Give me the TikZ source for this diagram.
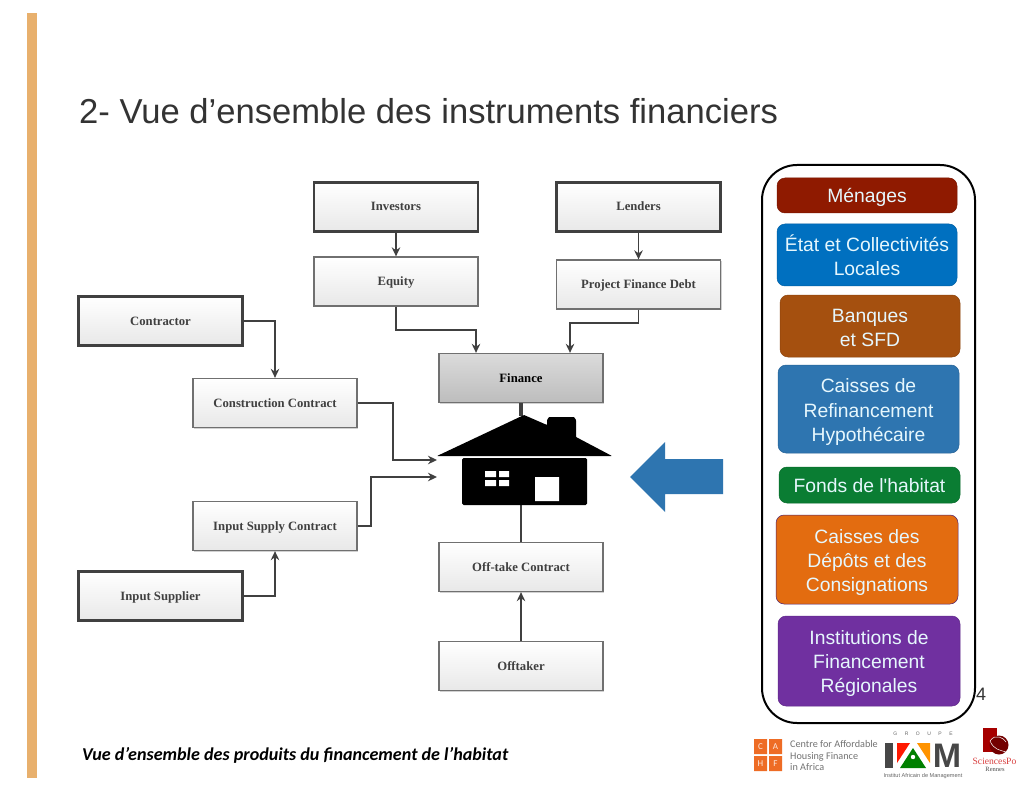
\documentclass[tikz,border=0pt]{standalone}
\usepackage{fontspec}
\setmainfont{Liberation Sans}
\newfontfamily\plainsans{Liberation Sans}
\newfontfamily\serifdiag{Liberation Serif}
\newfontfamily\capfont{Carlito}
\usetikzlibrary{shadows,calc,arrows.meta}
\definecolor{stripe}{HTML}{E8B06D}
\definecolor{titlegray}{HTML}{333333}
\definecolor{linegray}{HTML}{404040}
\definecolor{cMen}{HTML}{8F1A00}
\definecolor{cEtat}{HTML}{0070C0}
\definecolor{cBanq}{HTML}{A5500F}
\definecolor{cRef}{HTML}{2E75B0}
\definecolor{cFonds}{HTML}{0A7D33}
\definecolor{cDep}{HTML}{E36C10}
\definecolor{cInst}{HTML}{7030A0}
\definecolor{cahf}{HTML}{EE6C25}
\newcommand\liftline[1]{\rule{0pt}{#1}}
\tikzset{
  x=1pt,y=-1pt,
  diag/.style={draw=linegray!75,line width=1.3pt,top color=white,bottom color=black!9,
    minimum width=164pt,minimum height=49pt,inner sep=0pt,text height=9.5pt,text depth=1.5pt,
    font=\serifdiag\fontsize{12.7}{14}\selectfont\bfseries,text=black!75,
    drop shadow={shadow xshift=1.4pt,shadow yshift=-1.4pt,fill=black!40,opacity=.45}},
  strong/.style={diag,draw=linegray,line width=2.1pt},
  finbox/.style={diag,top color=black!14,bottom color=black!26,text=black},
  conn/.style={draw=linegray,line width=1.9pt,-{Stealth[length=9pt,width=8.5pt]}},
  plain/.style={draw=linegray,line width=1.9pt},
  pill/.style={rounded corners=8pt,minimum width=180pt,inner sep=0pt,align=center,
    font=\plainsans\fontsize{19.3}{24}\selectfont,text=white!90!cyan,draw=#1!85!black,line width=.5pt,fill=#1},
}
\begin{document}
\begin{tikzpicture}
\useasboundingbox (0,0) rectangle (1024,791);
\fill[white] (0,0) rectangle (1024,791);
\fill[stripe] (27,13) rectangle (37,778);
\node[anchor=base west,inner sep=0pt,text=titlegray,font=\fontsize{34.6}{38}\selectfont] (title) at (79,124) {2- Vue d’ensemble des instruments financiers};

% diagram boxes
\node[strong] (inv) at (396,207) {Investors};
\node[strong] (len) at (638.5,207) {Lenders};
\node[diag] (eq) at (396,281.5) {Equity};
\node[diag] (pfd) at (638.5,284.5) {Project Finance Debt};
\node[finbox] (fin) at (521,378) {Finance};
\node[strong] (con) at (160.5,321) {Contractor};
\node[diag] (cc) at (275,403) {Construction Contract};
\node[diag] (isc) at (275,526) {Input Supply Contract};
\node[strong] (sup) at (160.5,596) {Input Supplier};
\node[diag] (otc) at (521,567) {Off-take Contract};
\node[diag] (off) at (521,666) {Offtaker};

\coordinate (hA) at (437,460);
\coordinate (hB) at (437,477);
\coordinate (hT) at (521,416);
\coordinate (hS) at (521,505);

% connectors
\draw[conn] (inv) -- (eq);
\draw[conn] (len) -- (pfd);
\draw[conn] (eq.south) -- ++(0,23) -| ([xshift=-45pt]fin.north);
\draw[conn] (pfd.south) -- ++(0,13) -| ([xshift=49pt]fin.north);
\draw[conn] (con.east) -| (cc.north);
\draw[conn] (sup.east) -| (isc.south);
\draw[conn] (cc.east) -- ++(35,0) |- (hA);
\draw[conn] (isc.east) -- ++(13,0) |- (hB);
\draw[conn] (off) -- (otc);
\draw[plain] (otc) -- (hS);
\draw[draw=linegray,line width=3.5pt] (fin) -- (hT);

% house
\fill[black,rounded corners=.6pt] (524,415) -- (547,425) -- (547,420) -- (549,417) -- (574,417) -- (576,420) -- (576,437) -- (612,456) -- (437,456) -- cycle;
\fill[black,rounded corners=1.5pt] (462,458) rectangle (587,505);
\fill[white] (485,471) rectangle (496,477) (499,471) rectangle (509,477)
             (485,480) rectangle (496,486) (499,480) rectangle (509,486)
             (535,477) rectangle (559,501);
% arrow
\fill[cRef] (630,477) -- (665,442) -- (665,459) -- (723,459) -- (723,494) -- (665,494) -- (665,512) -- cycle;

% right panel
\node[draw=black,line width=2pt,rounded corners=35pt,minimum width=213pt,minimum height=558pt,inner sep=0pt] (panel) at (868.5,444) {};
\node[pill=cMen,minimum height=35pt] (m1) at (867,195.5) {\liftline{19pt}Ménages};
\node[pill=cEtat,minimum height=62pt] (m2) at (867,255) {État et Collectivités\\Locales};
\node[pill=cBanq,minimum height=62pt] (m3) at (870,326) {\liftline{18pt}Banques\\et SFD};
\node[pill=cRef,minimum height=88pt,minimum width=181pt] (m4) at (868.5,409) {\liftline{20pt}Caisses de\\Refinancement\\Hypothécaire};
\node[pill=cFonds,minimum height=36pt,minimum width=181pt] (m5) at (869.5,485) {\liftline{15pt}Fonds de l'habitat};
\node[pill=cDep,minimum height=89pt,minimum width=182pt,draw=cInst!70!black] (m6) at (867,559.5) {\liftline{19.5pt}Caisses des\\Dépôts et des\\Consignations};
\node[pill=cInst,minimum height=90pt,minimum width=182pt] (m7) at (869,661) {\liftline{18.5pt}Institutions de\\Financement\\Régionales};

\node[font=\fontsize{18}{20}\selectfont,text=titlegray,inner sep=0pt] (pg) at (981,694) {4};
\node[anchor=base west,inner sep=0pt,font=\capfont\fontsize{18.1}{20}\selectfont\bfseries\itshape] (cap) at (82,760) {Vue d’ensemble des produits du financement de l’habitat};

% CAHF logo
\fill[cahf] (754,739) rectangle (767,754) (769,739) rectangle (782,754)
            (754,756) rectangle (767,771) (769,756) rectangle (782,771);
\foreach \xx/\yy/\ll in {760.5/746.5/C,775.5/746.5/A,760.5/763.5/H,775.5/763.5/F}
  \node[text=white!85!cahf,font=\capfont\fontsize{9}{9}\selectfont,inner sep=0pt] at (\xx,\yy) {\ll};
\node[anchor=west,inner sep=0pt,align=left,text=black!55,font=\capfont\fontsize{10.2}{11.2}\selectfont] (cahft) at (790,755.5) {Centre for Affordable\\Housing Finance\\in Africa};

% IAM logo
\node[inner sep=0pt,text=black!60,font=\fontsize{5}{6}\selectfont] (grp) at (923,734) {G\hspace{7.5pt}R\hspace{7.5pt}O\hspace{7.5pt}U\hspace{7.5pt}P\hspace{7.5pt}E};
\fill[black!72] (885,743) rectangle (893,768);
\fill[red!80!orange] (897,743) -- (910,743) -- (897,763) -- cycle;
\fill[orange!85!yellow] (917,743) -- (930,743) -- (930,763) -- cycle;
\fill[green!50!black] (913,748) -- (926,768) -- (900,768) -- cycle;
\fill[white] (913,757) circle (2.2);
\node[inner sep=0pt,text=black!72,font=\fontsize{34}{34}\selectfont\bfseries,anchor=base] (mm) at (947,767.5) {M};
\node[inner sep=0pt,text=black!60,font=\fontsize{5.6}{6}\selectfont] (iamt) at (923,776.5) {Institut Africain de Management};

% SciencesPo logo
\fill[red!65!black] (983,728) rectangle (997,752);
\fill[red!45!black] (999,745) circle (9.5);
\draw[white,line width=.5pt] (990,741) .. controls (995,733) and (1004,738) .. (1006,742) (990,741) .. controls (994,750) and (1000,750) .. (1006,752);
\node[inner sep=0pt,text=red!70!white!85!black,font=\serifdiag\fontsize{9.6}{10}\selectfont] (sp) at (994.5,761) {SciencesPo};
\node[inner sep=0pt,text=black!70,font=\serifdiag\fontsize{6.5}{7}\selectfont] (rn) at (995,769) {Rennes};
\end{tikzpicture}
\end{document}
